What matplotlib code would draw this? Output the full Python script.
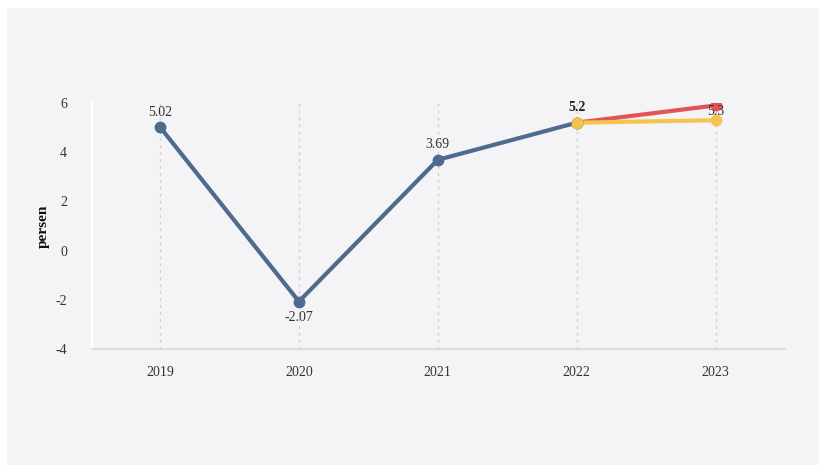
import matplotlib
matplotlib.use("Agg")
import matplotlib.pyplot as plt
from matplotlib.patches import Rectangle

years = [2019, 2020, 2021, 2022, 2023]
main_years = [2019, 2020, 2021, 2022]
main_vals = [5.02, -2.07, 3.69, 5.2]
red_years = [2022, 2023]
red_vals = [5.2, 5.9]
yellow_years = [2022, 2023]
yellow_vals = [5.2, 5.3]
yticks = [-4, -2, 0, 2, 4, 6]

plt.rcParams['font.family'] = ['Liberation Serif', 'DejaVu Serif']
plt.rcParams['axes.unicode_minus'] = False

W, H = 819, 465
fig = plt.figure(figsize=(W / 100, H / 100), dpi=100)
fig.patch.set_facecolor('white')
fig.patches.append(Rectangle((7 / W, 0), 1 - 7 / W, 1 - 8 / H, transform=fig.transFigure,
                             facecolor='#f4f4f6', edgecolor='none', zorder=-10))

ax = fig.add_axes([92 / W, 1 - 349 / H, (785 - 92) / W, (349 - 103) / H])
ax.set_facecolor('none')
ax.set_xlim(2018.51, 2023.5)
ax.set_ylim(-4, 6)

for y in years:
    ax.axvline(y, color='#cfcfd4', linestyle=(0, (2, 3)), linewidth=1, zorder=1)

blue = '#4f6a8f'
red = '#e35454'
yellow = '#f4c44e'
ax.plot(red_years, red_vals, color=red, linewidth=3, marker='o', markersize=7.5, zorder=3)
ax.plot(yellow_years, yellow_vals, color=yellow, linewidth=3, marker='o', markersize=7.5, zorder=4)
ax.plot(main_years, main_vals, color=blue, linewidth=3, marker='o', markersize=7.5, zorder=5)
ax.plot([2022], [5.2], color=yellow, marker='o', markersize=7.5, linestyle='none', zorder=6)

for x, v in zip(main_years[:3], main_vals[:3]):
    if v >= 0:
        ax.annotate(f"{v:g}", (x, v), xytext=(0, 6), textcoords='offset points', ha='center', va='bottom',
                    fontsize=10, color='#333333')
    else:
        ax.annotate(f"{v:g}", (x, v), xytext=(0, -7), textcoords='offset points', ha='center', va='top',
                    fontsize=10, color='#333333')
ax.annotate("5.2", (2022, 5.2), xytext=(0, 6), textcoords='offset points', ha='center', va='bottom',
            fontsize=10, color='#222222', fontweight='bold')
ax.annotate(f"{yellow_vals[1]:g}", (2023, red_vals[1]), xytext=(0, -4), textcoords='offset points', ha='center',
            va='center', fontsize=10, color='#333333', zorder=10)

for s in ['top', 'right']:
    ax.spines[s].set_visible(False)
ax.spines['left'].set_color('white')
ax.spines['left'].set_linewidth(1.5)
ax.spines['bottom'].set_color('#d8d8dc')
ax.spines['bottom'].set_linewidth(1.2)

ax.set_xticks(years)
ax.set_xticklabels([str(y) for y in years])
ax.set_yticks(yticks)
ax.set_yticklabels([str(t) for t in yticks])
ax.tick_params(axis='both', length=0, labelsize=10, labelcolor='#333333')
ax.tick_params(axis='x', pad=12)
ax.tick_params(axis='y', pad=18)
ax.set_ylabel('persen', fontsize=11, fontweight='bold', color='#111111', labelpad=4)

fig.savefig('out.png', dpi=100)
